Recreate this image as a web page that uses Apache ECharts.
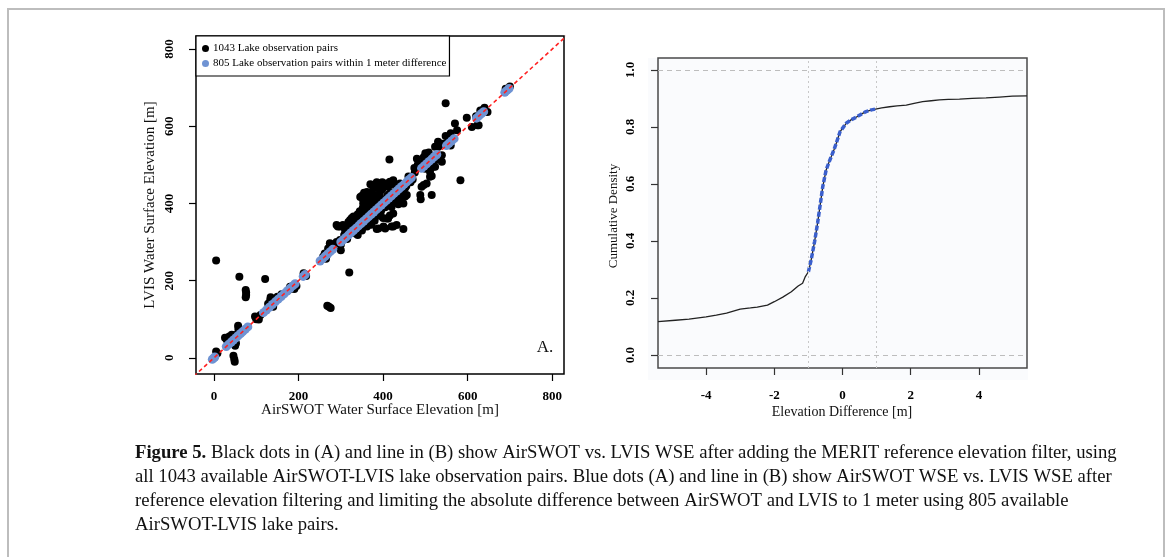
<!DOCTYPE html>
<html>
<head>
<meta charset="utf-8">
<script src="https://cdn.jsdelivr.net/npm/echarts@6/dist/echarts.min.js"></script>
<style>
html,body{margin:0;padding:0;background:#fff;}
#chart{width:1167px;height:557px;}
</style>
</head>
<body>
<div id="chart"></div>
<script>
// ---------- Panel A data ----------
const seriesAName = '1043 Lake observation pairs';
const seriesBName = '805 Lake observation pairs within 1 meter difference';

// all observation pairs (AirSWOT WSE, LVIS WSE) visible outside / around the 1 m band
const blackPairs = [
  [5,252],[60,210],[121,204],[75,176],[76,169],[76,163],[75,157],
  [134,157],[133,150],[134,146],[128,140],[140,150],
  [110,111],[106,99],[97,107],[100,100],[104,105],
  [57,83],[58,77],[58,72],[26,52],[30,47],[36,55],[42,60],[50,59],[45,37],[50,31],[52,38],[46,5],[48,-4],[49,-10],[5,16],[8,12],
  [185,180],[190,178],[195,186],[180,184],[176,176],
  [268,135],[272,132],[276,129],[320,221],
  [300,279],[274,297],[278,288],[298,305],[270,283],[280,293],
  [290,344],[298,340],[293,340],[305,344],[314,343],[310,331],[322,357],[330,366],[334,353],[338,361],[330,350],
  [385,334],[389,335],[405,335],[420,340],[424,340],[432,344],[448,334],[401,340],
  [409,361],[416,369],[412,361],[424,374],
  [346,417],[353,409],[353,400],[357,417],[361,417],[361,383],[365,400],[369,409],[377,396],[381,400],[389,409],
  [377,443],[377,439],[409,452],[412,443],[416,456],[424,460],[424,456],
  [409,409],[420,391],[432,404],[448,400],
  [448,435],[456,422],[440,430],
  [415,514],[480,516],[515,422],[488,422],[489,411],[496,448],[503,452],[491,443],[515,471],[511,469],
  [511,482],[519,495],[523,512],[511,508],[523,495],[511,491],[539,525],[539,508],[531,547],[523,547],[539,555],
  [548,660],[570,607],[598,622],[610,598],[623,603],[626,603],[630,641],[637,643],[647,637],[583,460],
  [340,330],[350,362],[360,372],[370,362],[380,392],[395,385],[400,410],[410,420],[420,428],[430,445],[440,452],[455,445],[460,470],[470,462],[475,480],[465,455],
  [330,345],[345,340],[355,345],[365,375],[372,385],[385,375],[392,402],[402,395],[415,425],[425,415],[435,440],[445,435],
  [318,323],[308,318],[325,335],[300,293],[290,300],[315,308],
  [326,362],[318,352],[340,372],[345,380],[352,388],[360,392],[368,398],[375,410],[383,420],[392,425],[398,436],[405,445],
  [335,322],[348,335],[358,350],[366,355],[375,365],[385,372],[395,380],[405,390],[418,405],[430,418],[440,425],[452,440],
  [362,430],[372,425],[385,440],[395,448],[398,455],[385,455],[370,450],[355,428],[350,420],
  [400,362],[392,368],[380,355],[372,345],[362,340],[350,330],[340,318],[440,412],[452,418],[436,398],
  [474,492],[482,500],[496,520],[500,530],[508,532],[530,560],[548,575],[560,582],[575,590],
  [495,505],[500,490],[505,515],[545,555],[555,565],[560,550],[690,697],[700,703],[640,648],[620,626],
  [258,262],[265,257],[212,219],[218,212],[282,290],[288,296],[262,270],[140,132],[150,158],[160,165]
];

// pairs whose absolute difference is below 1 m
const bluePairs = [
  [-4,-4],[-1,-1],[2,2],
  [29,29],[35,35],[41,41],[46,46],[52,52],[57,57],[63,63],[68,68],[74,74],[80,80],
  [117,117],[124,124],[131,131],[138,138],[145,145],[152,152],[159,159],[166,166],[173,173],[180,180],[187,187],[192,192],
  [211,211],[216,216],
  [251,251],[257,257],[263,263],[269,269],[275,275],[281,281],
  [300,300],[306,306],[312,312],[318,318],[324,324],[330,330],[336,336],[342,342],[348,348],[354,354],[360,360],
  [366,366],[372,372],[378,378],[384,384],[390,390],[396,396],[402,402],[408,408],[414,414],[420,420],[426,426],
  [432,432],[438,438],[444,444],[450,450],[456,456],[462,462],[467,467],
  [491,491],[497,497],[503,503],[509,509],[515,515],[521,521],[527,527],
  [550,550],[556,556],[562,562],[568,568],
  [621,621],[627,627],[633,633],[638,638],
  [688,688],[693,693],[698,698]
];

// 1:1 reference line
const oneToOne = [[-60,-60],[900,900]];

const aTicks = [0,200,400,600,800];

// ---------- Panel B data ----------
const ecdfX = [-5.41,-4.9,-4.5,-4.0,-3.7,-3.4,-3.0,-2.7,-2.5,-2.2,-2.0,-1.75,-1.5,-1.3,-1.17,-1.09,-1.0,-0.92,-0.82,-0.73,-0.65,-0.58,-0.48,-0.4,-0.33,-0.25,-0.18,-0.07,0.11,0.25,0.4,0.55,0.69,0.85,0.97,1.15,1.38,1.6,1.87,2.1,2.35,2.6,2.84,3.1,3.43,3.8,4.21,4.6,4.98,5.41];
const ecdfY = [0.117,0.122,0.126,0.134,0.140,0.147,0.161,0.165,0.168,0.175,0.187,0.203,0.222,0.242,0.252,0.275,0.292,0.333,0.397,0.463,0.53,0.59,0.649,0.675,0.696,0.72,0.744,0.784,0.813,0.825,0.834,0.845,0.854,0.860,0.863,0.867,0.871,0.874,0.877,0.883,0.889,0.892,0.895,0.897,0.898,0.900,0.902,0.905,0.908,0.909];
const withinLimit = 1;
const bTicksX = [-4,-2,0,2,4];
const bTicksY = [0,0.2,0.4,0.6,0.8,1.0];

const captionHead = 'Figure 5.';
const captionFirst = ' Black dots in (A) and line in (B) show AirSWOT vs. LVIS WSE after adding the MERIT reference elevation filter, using';
const captionLines = [
  'all 1043 available AirSWOT-LVIS lake observation pairs. Blue dots (A) and line in (B) show AirSWOT WSE vs. LVIS WSE after',
  'reference elevation filtering and limiting the absolute difference between AirSWOT and LVIS to 1 meter using 805 available',
  'AirSWOT-LVIS lake pairs.'
];

// ---------- build ----------
const ecdfAll = ecdfX.map((x, i) => [x, ecdfY[i]]);
const ecdfBlue = ecdfAll.filter(p => Math.abs(p[0]) <= withinLimit);

const serif = '"Liberation Serif", "Times New Roman", serif';
const capFont = '18.7px ' + serif;
const chart = echarts.init(document.getElementById('chart'));

const tickLabel = { fontFamily: serif, fontWeight: 'bold', fontSize: 13, color: '#000' };
const hiddenLine = { show: false, onZero: false };

chart.setOption({
  animation: false,
  backgroundColor: '#fff',
  legend: {
    left: 196, top: 36,
    orient: 'vertical',
    backgroundColor: '#fff',
    borderColor: '#000', borderWidth: 1.2,
    padding: [7, 3, 7, 6],
    itemGap: 4,
    itemWidth: 7, itemHeight: 7,
    icon: 'circle',
    textStyle: { fontFamily: serif, fontSize: 11, color: '#000', padding: [0,0,0,-1] },
    data: [seriesAName, seriesBName]
  },
  grid: [
    { left: 196, top: 36, width: 368, height: 338, show: true, borderColor: '#000', borderWidth: 1.5, backgroundColor: 'transparent' },
    { left: 658, top: 58, width: 369, height: 310, show: true, borderColor: '#4a4a4a', borderWidth: 1.5, backgroundColor: '#fafbfd' }
  ],
  xAxis: [
    { gridIndex: 0, type: 'value', min: -42.6, max: 828, position: 'bottom',
      axisLine: hiddenLine, splitLine: { show: false },
      axisTick: { show: true, length: 7, lineStyle: { color: '#000', width: 1.2 }, customValues: aTicks },
      axisLabel: Object.assign({ margin: 16, customValues: aTicks }, tickLabel) },
    { gridIndex: 1, type: 'value', min: -5.41, max: 5.41, position: 'bottom',
      axisLine: hiddenLine, splitLine: { show: false },
      axisTick: { show: true, length: 7, lineStyle: { color: '#333', width: 1.2 }, customValues: bTicksX },
      axisLabel: Object.assign({ margin: 21, customValues: bTicksX, formatter: v => String(Math.round(v)) }, tickLabel) }
  ],
  yAxis: [
    { gridIndex: 0, type: 'value', min: -42, max: 834, position: 'left',
      axisLine: hiddenLine, splitLine: { show: false },
      axisTick: { show: true, length: 7, lineStyle: { color: '#000', width: 1.2 }, customValues: aTicks },
      axisLabel: Object.assign({ margin: 20, rotate: 90, customValues: aTicks }, tickLabel) },
    { gridIndex: 1, type: 'value', min: -0.0456, max: 1.042, position: 'left',
      axisLine: hiddenLine, splitLine: { show: false },
      axisTick: { show: true, length: 7, lineStyle: { color: '#333', width: 1.2 }, customValues: bTicksY },
      axisLabel: Object.assign({ margin: 21, rotate: 90, customValues: bTicksY, formatter: v => v.toFixed(1) }, tickLabel) }
  ],
  series: [
    { name: seriesAName, type: 'scatter', xAxisIndex: 0, yAxisIndex: 0,
      data: blackPairs, symbolSize: 8, itemStyle: { color: '#000', opacity: 1 }, z: 2 },
    { name: seriesBName, type: 'scatter', xAxisIndex: 0, yAxisIndex: 0,
      data: bluePairs, symbolSize: 9, itemStyle: { color: '#6f93d3', opacity: 1 }, z: 3 },
    { name: '1:1', type: 'line', xAxisIndex: 0, yAxisIndex: 0, data: oneToOne, clip: true,
      symbol: 'none', lineStyle: { color: '#ff2020', width: 1.6, type: [4, 3] }, z: 4 },
    { name: 'ecdf', type: 'line', xAxisIndex: 1, yAxisIndex: 1, data: ecdfAll, symbol: 'none', clip: true,
      lineStyle: { color: '#222', width: 1.3 }, z: 3,
      markLine: { silent: true, symbol: 'none', label: { show: false },
        data: [
          { yAxis: 0, lineStyle: { color: '#bdbdbd', type: [5, 4], width: 1.2 } },
          { yAxis: 1, lineStyle: { color: '#bdbdbd', type: [5, 4], width: 1.2 } },
          { xAxis: -withinLimit, lineStyle: { color: '#c8c8c8', type: [2, 3], width: 1 } },
          { xAxis: withinLimit, lineStyle: { color: '#c8c8c8', type: [2, 3], width: 1 } }
        ] } },
    { name: 'ecdf805', type: 'line', xAxisIndex: 1, yAxisIndex: 1, data: ecdfBlue, symbol: 'none',
      lineStyle: { color: '#3a5fcd', width: 3.5, type: [5, 2] }, z: 4 }
  ],
  graphic: [
    { type: 'rect', shape: { x: 8, y: 9, width: 1156, height: 600 }, silent: true,
      style: { fill: 'none', stroke: '#bdbdbd', lineWidth: 2 }, z: -10 },
    { type: 'rect', shape: { x: 648, y: 58, width: 380, height: 322 }, silent: true,
      style: { fill: '#fafbfd' }, z: -9 },
    { type: 'text', x: 380, y: 410, silent: true,
      style: { text: 'AirSWOT Water Surface Elevation [m]', font: '15px ' + serif, fill: '#111', textAlign: 'center', textVerticalAlign: 'middle' } },
    { type: 'text', x: 150, y: 205, rotation: Math.PI / 2, silent: true,
      style: { text: 'LVIS Water Surface Elevation [m]', font: '15px ' + serif, fill: '#111', textAlign: 'center', textVerticalAlign: 'middle' } },
    { type: 'text', x: 545, y: 348, silent: true,
      style: { text: 'A.', font: '17px ' + serif, fill: '#111', textAlign: 'center', textVerticalAlign: 'middle' } },
    { type: 'text', x: 842, y: 412, silent: true,
      style: { text: 'Elevation Difference [m]', font: '14px ' + serif, fill: '#111', textAlign: 'center', textVerticalAlign: 'middle' } },
    { type: 'text', x: 614, y: 216, rotation: Math.PI / 2, silent: true,
      style: { text: 'Cumulative Density', font: '13px ' + serif, fill: '#111', textAlign: 'center', textVerticalAlign: 'middle' } },
    { type: 'text', x: 135, y: 453, silent: true,
      style: { text: '{b|' + captionHead + '}{n|' + captionFirst + '}', textVerticalAlign: 'middle',
        rich: { b: { font: 'bold ' + capFont, fill: '#111' }, n: { font: capFont, fill: '#111' } } } },
    { type: 'text', x: 135, y: 477, silent: true,
      style: { text: captionLines[0], font: capFont, fill: '#111', textVerticalAlign: 'middle' } },
    { type: 'text', x: 135, y: 501, silent: true,
      style: { text: captionLines[1], font: capFont, fill: '#111', textVerticalAlign: 'middle' } },
    { type: 'text', x: 135, y: 525, silent: true,
      style: { text: captionLines[2], font: capFont, fill: '#111', textVerticalAlign: 'middle' } }
  ]
});
</script>
</body>
</html>
